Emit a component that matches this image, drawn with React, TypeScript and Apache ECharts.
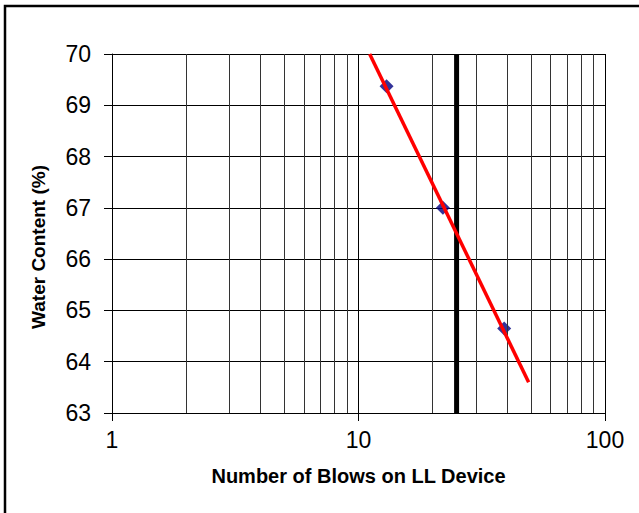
import React, { useEffect, useRef } from "react";
import * as echarts from "echarts";

const BLOWS = [13, 22, 39];
const WATER = [69.37, 67.0, 64.65];
const TREND_X = [11.1, 49];
const TREND_Y = [70, 63.6];
const LL_BLOWS = 25;
const MINOR_X = [2, 3, 4, 5, 6, 7, 8, 9, 20, 30, 40, 50, 60, 70, 80, 90];
const X_MIN = 1;
const X_MAX = 100;
const Y_MIN = 63;
const Y_MAX = 70;
const X_TITLE = "Number of Blows on LL Device";
const Y_TITLE = "Water Content (%)";

const FONT = '"Liberation Sans", Arial, sans-serif';

export default function App() {
  const ref = useRef<HTMLDivElement>(null);
  useEffect(() => {
    document.body.style.margin = "0";
    const chart = echarts.init(ref.current!, null, { renderer: "svg" });
    const option: any = {
      animation: false,
      backgroundColor: "#fff",
      grid: { left: 112, right: 34, top: 54, bottom: 100 },
      xAxis: {
        type: "log",
        logBase: 10,
        min: X_MIN,
        max: X_MAX,
        name: X_TITLE,
        nameLocation: "middle",
        nameGap: 53,
        nameTextStyle: { fontFamily: FONT, fontSize: 20, fontWeight: "bold", color: "#000" },
        axisLine: { show: true, lineStyle: { color: "#000", width: 1 } },
        axisTick: { show: true, length: 8, lineStyle: { color: "#000" } },
        axisLabel: { fontFamily: FONT, fontSize: 23, color: "#000", margin: 15 },
        splitLine: { show: true, lineStyle: { color: "#000", width: 1 } },
        minorTick: { show: false },
        minorSplitLine: { show: false },
      },
      yAxis: {
        type: "value",
        min: Y_MIN,
        max: Y_MAX,
        interval: 1,
        axisLine: { show: true, lineStyle: { color: "#000", width: 1 } },
        axisTick: { show: true, length: 8, lineStyle: { color: "#000" } },
        axisLabel: { fontFamily: FONT, fontSize: 23, color: "#000", margin: 21 },
        splitLine: { show: true, lineStyle: { color: "#000", width: 1 } },
      },
      graphic: [
        {
          type: "rect",
          shape: { x: 5, y: 6, width: 700, height: 600 },
          style: { fill: "none", stroke: "#000", lineWidth: 2.5 },
          silent: true,
        },
        {
          type: "text",
          x: 38,
          y: 247,
          rotation: Math.PI / 2,
          style: {
            text: Y_TITLE,
            fontFamily: FONT,
            fontSize: 19,
            fontWeight: "bold",
            fill: "#000",
            align: "center",
            verticalAlign: "middle",
          },
        },
      ],
      series: [
        {
          type: "line",
          data: [],
          z: 1,
          silent: true,
          markLine: {
            silent: true,
            symbol: ["none", "none"],
            label: { show: false },
            lineStyle: { color: "#333", width: 1, type: "solid" },
            data: MINOR_X.map((v) => ({ xAxis: v })),
          },
        },
        {
          type: "line",
          data: [
            [LL_BLOWS, Y_MIN],
            [LL_BLOWS, Y_MAX],
          ],
          symbol: "none",
          lineStyle: { color: "#000", width: 5 },
          z: 3,
          silent: true,
        },
        {
          type: "scatter",
          data: BLOWS.map((b, i) => [b, WATER[i]]),
          symbol: "diamond",
          symbolSize: 14,
          itemStyle: { color: "#000080" },
          z: 4,
        },
        {
          type: "line",
          data: TREND_X.map((x, i) => [x, TREND_Y[i]]),
          symbol: "none",
          lineStyle: { color: "#ff0000", width: 3.5 },
          z: 5,
          silent: true,
        },
      ],
    };
    chart.setOption(option);
    return () => chart.dispose();
  }, []);
  return <div ref={ref} style={{ width: 639, height: 513 }} />;
}
